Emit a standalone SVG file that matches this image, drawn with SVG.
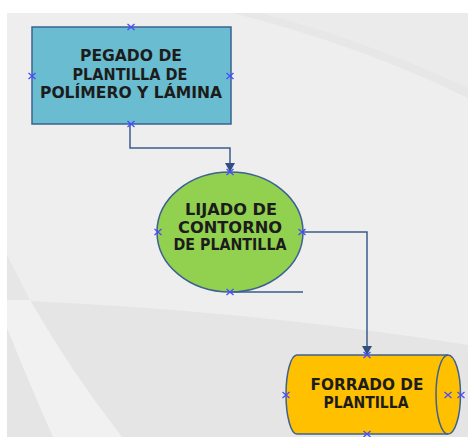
<svg xmlns="http://www.w3.org/2000/svg" width="468" height="437" viewBox="0 0 468 437">
  <style>
    .lbl { font-family: "DejaVu Sans", "Liberation Sans", sans-serif; font-weight: bold; font-size: 15px; fill: #1c1c1c; text-anchor: middle; }
    .shape { stroke: #3d6190; stroke-width: 1.5; }
    .conn { fill: none; stroke: #3a5d8c; stroke-width: 1.5; }
    .pt { fill: none; stroke: #4a4aff; stroke-width: 1.3; }
  </style>
  <defs>
    <marker id="arrow" markerWidth="11" markerHeight="10" refX="9" refY="5" orient="auto" markerUnits="userSpaceOnUse">
      <path d="M0,0 L9,5 L0,10 Z" fill="#2f4f80"/>
    </marker>
    <path id="x" d="M-3.5,-3 L3.5,3 M-3.5,3 L3.5,-3" class="pt"/>
  </defs>

  <!-- background -->
  <rect x="0" y="0" width="468" height="437" fill="#ffffff"/>
  <rect x="7" y="13" width="461" height="424" fill="#eeeeee"/>
  <path d="M233,13 Q360,45 468,98 L468,13 Z" fill="#ebebeb"/>
  <path d="M233,13 Q360,45 468,98 L468,88 Q360,38 260,13 Z" fill="#e7e7e7"/>
  <path d="M7,300 Q250,310 468,345 L468,437 L7,437 Z" fill="#e5e5e5"/>
  <path d="M7,255 L30,300 L7,300 Z" fill="#e6e6e6"/>
  <path d="M7,328 Q30,385 53,437 L122,437 Q70,370 30,300 L7,300 Z" fill="#f1f1f1"/>

  <!-- connectors -->
  <g id="connectors">
    <path class="conn" d="M130,124 L130,148 L230,148 L230,172" marker-end="url(#arrow)"/>
    <path class="conn" d="M303,232 L367,232 L367,355" marker-end="url(#arrow)"/>
    <path class="conn" d="M230,292 L303,292"/>
  </g>

  <!-- node 1 -->
  <g id="pegado">
    <rect class="shape" x="32" y="27" width="199" height="97" fill="#6abcd0"/>
    <text class="lbl" x="131" y="61" textLength="102" lengthAdjust="spacingAndGlyphs">PEGADO DE</text>
    <text class="lbl" x="130" y="80" textLength="115" lengthAdjust="spacingAndGlyphs">PLANTILLA DE</text>
    <text class="lbl" x="131" y="98" textLength="182" lengthAdjust="spacingAndGlyphs">POLÍMERO Y LÁMINA</text>
  </g>

  <!-- node 2 -->
  <g id="lijado">
    <ellipse class="shape" cx="230" cy="232" rx="73" ry="60" fill="#92d050"/>
    <text class="lbl" x="231" y="215" textLength="92" lengthAdjust="spacingAndGlyphs">LIJADO DE</text>
    <text class="lbl" x="230" y="233" textLength="104" lengthAdjust="spacingAndGlyphs">CONTORNO</text>
    <text class="lbl" x="230" y="250" textLength="113" lengthAdjust="spacingAndGlyphs">DE PLANTILLA</text>
  </g>

  <!-- node 3 -->
  <g id="forrado">
    <path class="shape" d="M297,355 L448,355 A12.5,39.5 0 0 1 448,434 L297,434 A11,39.5 0 0 1 297,355 Z" fill="#ffc000"/>
    <path class="shape" d="M448,355 A12,39.5 0 0 0 448,434" fill="none"/>
    <text class="lbl" x="367" y="390" textLength="113" lengthAdjust="spacingAndGlyphs">FORRADO DE</text>
    <text class="lbl" x="366" y="408" textLength="85" lengthAdjust="spacingAndGlyphs">PLANTILLA</text>
  </g>

  <!-- connection points -->
  <g id="points">
    <use href="#x" x="131" y="27"/>
    <use href="#x" x="32" y="76"/>
    <use href="#x" x="230" y="76"/>
    <use href="#x" x="131" y="124"/>
    <use href="#x" x="230" y="172"/>
    <use href="#x" x="158" y="232"/>
    <use href="#x" x="302" y="232"/>
    <use href="#x" x="230" y="292"/>
    <use href="#x" x="367" y="355"/>
    <use href="#x" x="286" y="395"/>
    <use href="#x" x="448" y="395"/>
    <use href="#x" x="461" y="395"/>
    <use href="#x" x="367" y="434"/>
  </g>
</svg>
